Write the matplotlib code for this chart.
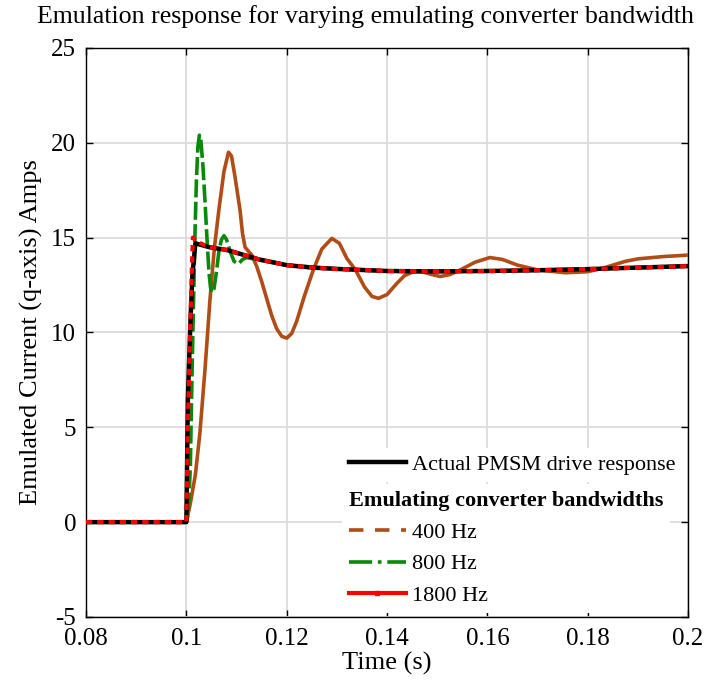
import matplotlib
matplotlib.use("Agg")
import matplotlib.pyplot as plt
from matplotlib.lines import Line2D
from matplotlib.ticker import FormatStrFormatter

plt.rcParams['font.family'] = ['Liberation Serif', 'DejaVu Serif']

# Actual PMSM drive response
t_actual = [0.08, 0.1, 0.1003, 0.1008, 0.1012, 0.1018, 0.1045, 0.108, 0.11, 0.1145,
            0.12, 0.125, 0.13, 0.14, 0.15, 0.16, 0.17, 0.18, 0.19, 0.2]
i_actual = [0, 0, 6.5, 10.5, 13.0, 14.7, 14.5, 14.35, 14.2, 13.85,
            13.55, 13.42, 13.35, 13.24, 13.22, 13.24, 13.28, 13.34, 13.42, 13.5]

# 400 Hz emulating converter
t_400 = [0.08, 0.1, 0.1008, 0.1018, 0.1027, 0.1037, 0.1047, 0.1056, 0.1065, 0.1075,
         0.1084, 0.109, 0.1097, 0.1107, 0.1112, 0.1117, 0.1123, 0.113, 0.114, 0.115,
         0.116, 0.117, 0.118, 0.119, 0.12, 0.121, 0.122, 0.1235, 0.1253, 0.127,
         0.129, 0.1305, 0.132, 0.1337, 0.1355, 0.137, 0.1383, 0.14, 0.142, 0.1435,
         0.1452, 0.147, 0.149, 0.1506, 0.1525, 0.155, 0.1575, 0.1605, 0.163, 0.166,
         0.17, 0.1755, 0.1798, 0.1825, 0.185, 0.1875, 0.19, 0.195, 0.2]
i_400 = [0, 0, 1.0, 2.5, 4.7, 8.0, 11.7, 14.5, 16.5, 18.5,
         19.5, 19.3, 18.2, 16.45, 15.2, 14.5, 14.3, 14.1, 13.5, 12.7,
         11.8, 10.9, 10.2, 9.8, 9.7, 9.95, 10.6, 11.9, 13.3, 14.4,
         14.96, 14.7, 13.9, 13.3, 12.4, 11.9, 11.8, 12.0, 12.6, 13.0,
         13.2, 13.2, 13.05, 12.95, 13.05, 13.35, 13.7, 13.95, 13.85, 13.55,
         13.3, 13.15, 13.2, 13.35, 13.55, 13.75, 13.88, 14.0, 14.08]

# 800 Hz emulating converter
t_800 = [0.08, 0.1, 0.1004, 0.1008, 0.101, 0.1013, 0.1017, 0.102, 0.1023, 0.1026,
         0.1029, 0.1033, 0.1037, 0.1041, 0.1045, 0.1048, 0.1051, 0.1055, 0.106, 0.1065,
         0.107, 0.1075, 0.108, 0.1087, 0.1095, 0.1104, 0.1112, 0.112, 0.113,
         0.12, 0.13, 0.14, 0.15, 0.16, 0.17, 0.18, 0.19, 0.2]
i_800 = [0, 0, 0.5, 3.0, 6.0, 10.0, 15.0, 18.0, 19.8, 20.4,
         20.1, 18.8, 17.0, 15.0, 13.2, 12.4, 12.1, 12.3, 13.2, 14.3,
         14.9, 15.1, 14.9, 14.3, 13.75, 13.62, 13.85, 13.95, 13.9,
         13.55, 13.35, 13.24, 13.22, 13.24, 13.28, 13.34, 13.42, 13.5]

# 1800 Hz emulating converter
t_1800 = [0.08, 0.1, 0.1003, 0.1008, 0.1011, 0.1013, 0.102, 0.1045, 0.108, 0.11,
          0.1145, 0.12, 0.125, 0.13, 0.14, 0.15, 0.16, 0.17, 0.18, 0.19, 0.2]
i_1800 = [0, 0, 5.0, 10.5, 13.5, 15.0, 14.8, 14.5, 14.35, 14.2,
          13.85, 13.55, 13.42, 13.35, 13.24, 13.22, 13.24, 13.28, 13.34, 13.42, 13.5]

c_400 = '#b04c16'
c_800 = '#0a880a'
c_1800 = '#ff0000'
fs_tick = 18
fs_lab = 19
fs_leg = 16

fig = plt.figure(figsize=(7.05, 6.85), dpi=100)
ax = fig.add_axes([0.122, 0.0993, 0.854, 0.8307])

ax.plot(t_400, i_400, color=c_400, lw=2.6, zorder=3)
ax.plot(t_800, i_800, color=c_800, lw=2.6, linestyle=(0, (5, 1.2)), zorder=4)
ax.plot(t_actual, i_actual, color='black', lw=3.2, zorder=5)
ax.plot(t_1800, i_1800, color=c_1800, lw=3.0, linestyle=(0, (1.5, 1.2)), zorder=6)

ax.set_xlim(0.08, 0.2)
ax.set_ylim(-5, 25)
ax.set_xticks([0.08, 0.1, 0.12, 0.14, 0.16, 0.18, 0.2])
ax.set_yticks([-5, 0, 5, 10, 15, 20, 25])
ax.xaxis.set_major_formatter(FormatStrFormatter('%g'))
ax.yaxis.set_major_formatter(FormatStrFormatter('%g'))
ax.grid(True, color='#dcdcdc', lw=1.3)
ax.set_axisbelow(True)
ax.tick_params(direction='in', top=True, right=True, length=5, width=1,
               labelsize=fs_tick)
ax.tick_params(axis='x', pad=8)
ax.tick_params(axis='y', pad=7)
for s in ax.spines.values():
    s.set_linewidth(1.0)

ax.set_xlabel('Time (s)', fontsize=fs_lab, labelpad=1)
ax.set_ylabel('Emulated Current (q-axis) Amps', fontsize=fs_lab, labelpad=6)
fig.suptitle('Emulation response for varying emulating converter bandwidth',
             fontsize=18.6, x=0.519, y=0.993)

h_act = [Line2D([], [], color='black', lw=3.2)]
leg1 = ax.legend(h_act, ['Actual PMSM drive response'], loc='upper left',
                 bbox_to_anchor=(0.425, 0.297), fontsize=fs_leg, frameon=True,
                 facecolor='white', edgecolor='none', framealpha=1,
                 handlelength=2.6, handletextpad=0.25, borderpad=0.3,
                 borderaxespad=0, fancybox=False)
ax.add_artist(leg1)

h_bw = [Line2D([], [], color=c_400, lw=2.6, linestyle=(0, (4, 3.2))),
        Line2D([], [], color=c_800, lw=2.6, linestyle='-.'),
        Line2D([], [], color=c_1800, lw=3.0, marker='s', markersize=2.5)]
leg2 = ax.legend(h_bw, ['400 Hz', '800 Hz', '1800 Hz'], loc='upper left',
                 bbox_to_anchor=(0.425, 0.233), fontsize=fs_leg, frameon=True,
                 facecolor='white', edgecolor='none', framealpha=1,
                 handlelength=2.6, handletextpad=0.25, borderpad=0.3,
                 borderaxespad=0, labelspacing=0.5, fancybox=False,
                 title='Emulating converter bandwidths', alignment='left',
                 title_fontproperties={'size': fs_leg, 'weight': 'bold'})
for lg in (leg1, leg2):
    lg.set_zorder(10)

fig.savefig('out.png', dpi=100)
